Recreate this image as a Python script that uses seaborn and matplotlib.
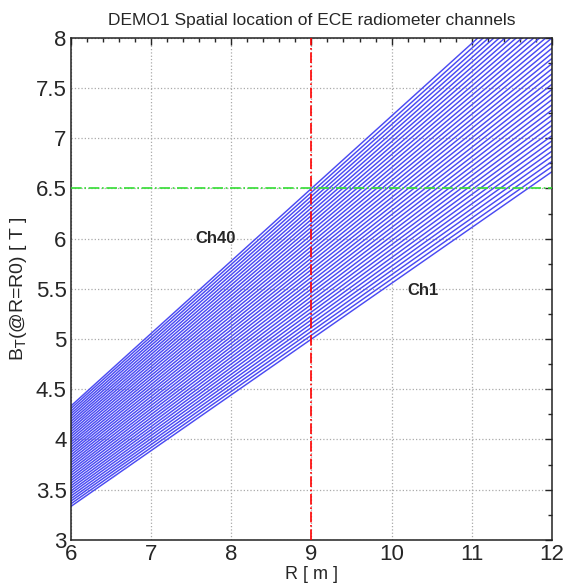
import numpy as np
import pandas as pd
import seaborn as sns
import matplotlib
matplotlib.use("Agg")
import matplotlib.pyplot as plt
from matplotlib.ticker import MultipleLocator

# Data: each channel line B_T(@R=R0) vs resonance position R (straight lines)
R_ends = [6, 12]
B_at_R6 = [3.333, 3.359, 3.385, 3.410, 3.436, 3.462, 3.487, 3.513, 3.538, 3.564,
           3.590, 3.615, 3.641, 3.667, 3.692, 3.718, 3.744, 3.769, 3.795, 3.821,
           3.846, 3.872, 3.897, 3.923, 3.949, 3.974, 4.000, 4.026, 4.051, 4.077,
           4.103, 4.128, 4.154, 4.179, 4.205, 4.231, 4.256, 4.282, 4.308, 4.333]
B_at_R12 = [6.667, 6.718, 6.769, 6.821, 6.872, 6.923, 6.974, 7.026, 7.077, 7.128,
            7.179, 7.231, 7.282, 7.333, 7.385, 7.436, 7.487, 7.538, 7.590, 7.641,
            7.692, 7.744, 7.795, 7.846, 7.897, 7.949, 8.000, 8.051, 8.103, 8.154,
            8.205, 8.256, 8.308, 8.359, 8.410, 8.462, 8.513, 8.564, 8.615, 8.667]
channels = [f"Ch{i+1}" for i in range(len(B_at_R6))]
R_ref = 9.0
B_ref = 6.5
xticks = [6, 7, 8, 9, 10, 11, 12]
yticks = [3, 3.5, 4, 4.5, 5, 5.5, 6, 6.5, 7, 7.5, 8]

rows = []
for ch, b6, b12 in zip(channels, B_at_R6, B_at_R12):
    rows.append({"ch": ch, "R": R_ends[0], "B": b6})
    rows.append({"ch": ch, "R": R_ends[1], "B": b12})
df = pd.DataFrame(rows)

sns.set_style("white")
plt.rcParams["font.family"] = ["Liberation Sans", "DejaVu Sans"]

fig = plt.figure(figsize=(5.81, 5.83), dpi=100)
ax = fig.add_axes([0.122, 0.074, 0.828, 0.861])

sns.lineplot(data=df, x="R", y="B", units="ch", estimator=None,
             color="#4a4af2", lw=1.05, ax=ax, legend=False)

ax.axvline(R_ref, color="red", ls="-.", lw=1.2, zorder=3)
ax.axhline(B_ref, color="#33dd33", ls="-.", lw=1.2, zorder=3)

ax.set_xlim(6, 12)
ax.set_ylim(3, 8)
ax.set_xticks(xticks)
ax.set_yticks(yticks)
ax.set_xticklabels([f"{v:g}" for v in xticks])
ax.set_yticklabels([f"{v:g}" for v in yticks])
ax.xaxis.set_minor_locator(MultipleLocator(0.2))
ax.yaxis.set_minor_locator(MultipleLocator(0.25))
ax.tick_params(which="both", direction="in", top=True, right=True, labelsize=16)
ax.tick_params(which="major", length=5, width=1, pad=3)
ax.tick_params(which="minor", length=3, width=1)
ax.grid(True, which="major", ls=":", color="#aaaaaa", lw=0.9)
for s in ax.spines.values():
    s.set_color("#222222")
    s.set_linewidth(1.1)

ax.set_xlabel("R [ m ]", fontsize=13, labelpad=1)
ax.set_ylabel(r"B$_\mathrm{T}$(@R=R0) [ T ]", fontsize=14, labelpad=5)
ax.set_title("DEMO1 Spatial location of ECE radiometer channels", fontsize=12.5, pad=9)

ax.text(7.55, 6.0, "Ch40", fontsize=12, fontweight="bold", ha="left", va="center")
ax.text(10.2, 5.48, "Ch1", fontsize=12, fontweight="bold", ha="left", va="center")

fig.savefig("out.png", dpi=100)
